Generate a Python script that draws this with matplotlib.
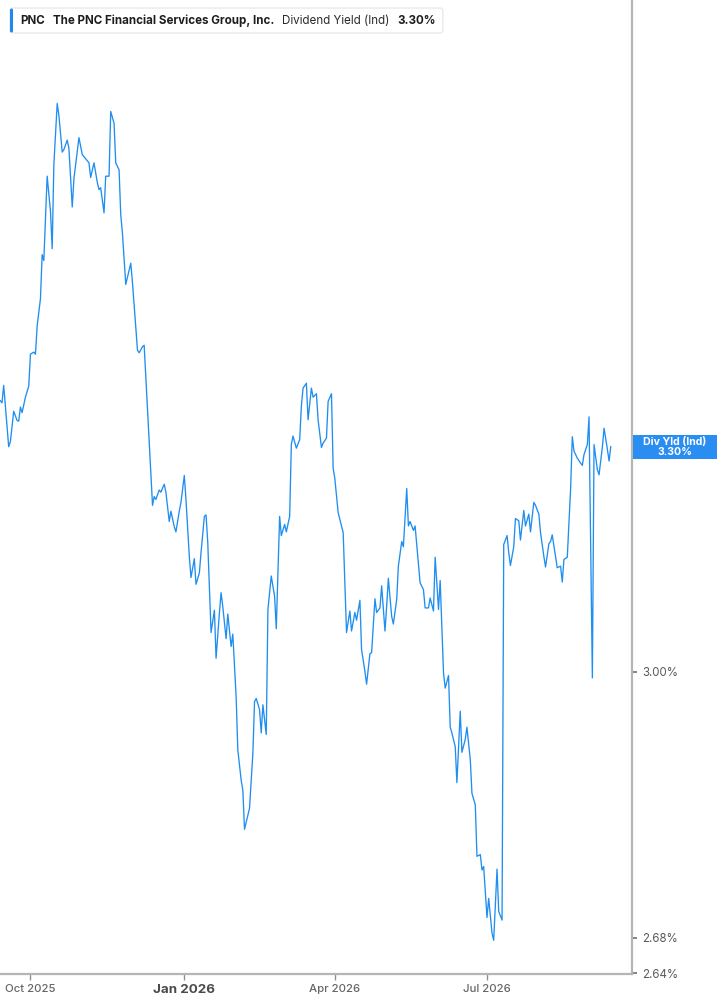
import matplotlib
matplotlib.use("Agg")
import matplotlib.pyplot as plt
import matplotlib.dates as mdates
import matplotlib.transforms as mtransforms
from matplotlib.patches import FancyBboxPatch, Rectangle
from matplotlib.ticker import FixedLocator, FixedFormatter, NullLocator
import pandas as pd

plt.rcParams['font.family'] = ['Inter', 'DejaVu Sans']

# ---------------- data ----------------
start_date = "2025-10-01"
day_offsets = [
    -18, -17, -16, -13, -12, -10, -8, -7, -6, -5, -3, -1, 0, 2, 3, 4, 6, 7, 8, 10,
    12, 13, 14, 16, 17, 19, 20, 22, 23, 25, 26, 29, 31, 35, 36, 38, 40, 41, 42, 44,
    45, 47, 48, 50, 51, 53, 54, 55, 57, 60, 61, 64, 65, 67, 68, 73, 74, 75, 77, 78,
    80, 81, 83, 84, 86, 87, 89, 90, 92, 93, 95, 96, 98, 99, 101, 102, 104, 105, 106, 108,
    110, 111, 113, 114, 115, 117, 118, 120, 121, 123, 124, 126, 127, 128, 130, 131, 133, 134, 135, 137,
    138, 139, 141, 142, 144, 146, 147, 149, 150, 152, 153, 155, 156, 157, 159, 161, 162, 163, 165, 166,
    168, 169, 171, 172, 174, 175, 177, 178, 180, 181, 182, 184, 186, 187, 188, 189, 191, 192, 194, 195,
    197, 198, 200, 201, 203, 204, 206, 207, 209, 210, 212, 213, 214, 216, 217, 219, 220, 222, 223, 225,
    226, 227, 229, 230, 232, 233, 235, 236, 238, 239, 241, 242, 244, 245, 247, 248, 250, 251, 252, 254,
    255, 257, 258, 260, 261, 263, 264, 266, 267, 269, 270, 271, 273, 274, 276, 277, 279, 280, 282, 283,
    285, 286, 287, 289, 290, 292, 293, 295, 296, 298, 299, 301, 302, 304, 305, 307, 308, 310, 311, 312,
    314, 315, 317, 318, 319, 321, 323, 324, 325, 327, 329, 330, 331, 333, 334, 336, 337, 339, 340, 342,
    343, 345, 346, 347,
]
yield_pct = [
    3.365, 3.362, 3.387, 3.300, 3.307, 3.350, 3.337, 3.336, 3.356, 3.348, 3.370, 3.386, 3.432, 3.435, 3.432, 3.473, 3.514, 3.580, 3.571, 3.701,
    3.646, 3.589, 3.719, 3.817, 3.798, 3.739, 3.743, 3.758, 3.745, 3.653, 3.697, 3.762, 3.735, 3.722, 3.699, 3.722, 3.691, 3.680, 3.683, 3.644,
    3.701, 3.701, 3.804, 3.785, 3.722, 3.711, 3.641, 3.613, 3.535, 3.567, 3.538, 3.438, 3.434, 3.443, 3.445, 3.219, 3.231, 3.227, 3.240, 3.237,
    3.248, 3.237, 3.197, 3.211, 3.190, 3.183, 3.211, 3.223, 3.260, 3.227, 3.150, 3.122, 3.147, 3.113, 3.128, 3.155, 3.204, 3.206, 3.170, 3.050,
    3.079, 3.017, 3.076, 3.102, 3.084, 3.042, 3.074, 3.032, 3.048, 2.968, 2.902, 2.865, 2.853, 2.806, 2.823, 2.831, 2.898, 2.962, 2.966, 2.952,
    2.923, 2.958, 2.921, 3.080, 3.124, 3.097, 3.055, 3.204, 3.178, 3.193, 3.183, 3.204, 3.303, 3.315, 3.298, 3.310, 3.357, 3.383, 3.390, 3.338,
    3.383, 3.370, 3.375, 3.338, 3.299, 3.305, 3.312, 3.364, 3.375, 3.270, 3.256, 3.209, 3.191, 3.182, 3.115, 3.050, 3.078, 3.052, 3.076, 3.066,
    3.092, 3.028, 3.000, 2.984, 3.023, 3.024, 3.094, 3.076, 3.082, 3.111, 3.052, 3.084, 3.121, 3.071, 3.061, 3.093, 3.137, 3.170, 3.163, 3.242,
    3.191, 3.197, 3.185, 3.191, 3.139, 3.115, 3.106, 3.082, 3.082, 3.095, 3.078, 3.149, 3.080, 3.118, 2.998, 2.979, 2.995, 2.930, 2.923, 2.906,
    2.862, 2.950, 2.899, 2.915, 2.930, 2.890, 2.849, 2.835, 2.774, 2.776, 2.758, 2.762, 2.703, 2.725, 2.685, 2.677, 2.759, 2.710, 2.700, 3.166,
    3.178, 3.155, 3.138, 3.163, 3.201, 3.198, 3.172, 3.212, 3.191, 3.207, 3.183, 3.223, 3.219, 3.207, 3.182, 3.150, 3.136, 3.167, 3.170, 3.179,
    3.150, 3.135, 3.137, 3.116, 3.146, 3.149, 3.242, 3.314, 3.294, 3.284, 3.277, 3.274, 3.289, 3.303, 3.342, 2.992, 3.303, 3.268, 3.261, 3.300,
    3.326, 3.296, 3.280, 3.300,
]

ticker = "PNC"
company = "The PNC Financial Services Group, Inc."
metric = "Dividend Yield (Ind)"
last_value_text = "3.30%"
last_label = "Div Yld (Ind)"
y_ticks = [3.00, 2.68, 2.64]
y_tick_labels = ["3.00%", "2.68%", "2.64%"]
x_tick_dates = ["2025-10-01", "2026-01-01", "2026-04-01", "2026-07-01"]
x_tick_labels = ["Oct 2025", "Jan 2026", "Apr 2026", "Jul 2026"]

# ---------------- figure ----------------
W, H = 717, 1005
LINE = '#1f8ef1'
AXIS = '#b5b5b5'

dates = pd.Timestamp(start_date) + pd.to_timedelta(day_offsets, unit="D")

fig = plt.figure(figsize=(W / 100, H / 100), dpi=100)
ax = fig.add_axes([0, 31 / H, 632 / W, 974 / H])
ax.plot(dates, yield_pct, color=LINE, lw=0.95, solid_joinstyle='round')

ax.set_yscale('log')
ax.set_ylim(2.639, 3.988)
t0 = pd.Timestamp(start_date)
ax.set_xlim(t0 - pd.Timedelta(days=18.2), t0 + pd.Timedelta(days=359.7))

for s in ('left', 'top'):
    ax.spines[s].set_visible(False)
for s in ('right', 'bottom'):
    ax.spines[s].set_color(AXIS)
    ax.spines[s].set_linewidth(1.6)

ax.yaxis.tick_right()
ax.yaxis.set_major_locator(FixedLocator(y_ticks))
ax.yaxis.set_major_formatter(FixedFormatter(y_tick_labels))
ax.yaxis.set_minor_locator(NullLocator())
ax.tick_params(axis='y', which='major', direction='out', length=3.5, width=1.2,
               color='#707070', labelcolor='#5a5a5a', labelsize=8.3, pad=4)

ax.xaxis.set_major_locator(FixedLocator(mdates.date2num(pd.to_datetime(x_tick_dates))))
ax.xaxis.set_major_formatter(FixedFormatter(x_tick_labels))
ax.xaxis.set_minor_locator(NullLocator())
ax.tick_params(axis='x', which='major', direction='out', length=4, width=1.0,
               color='#909090', labelcolor='#666666', labelsize=8.2, pad=3)
for i, lbl in enumerate(ax.get_xticklabels()):
    if x_tick_labels[i].startswith("Jan"):
        lbl.set_fontweight('bold')
        lbl.set_fontsize(9.6)
        lbl.set_color('#4a4a4a')
    else:
        lbl.set_fontweight('medium')

fig.canvas.draw()
renderer = fig.canvas.get_renderer()
ident = mtransforms.IdentityTransform()

# ---------------- last value tag ----------------
_, ypix = ax.transData.transform((mdates.date2num(dates[-1]), yield_pct[-1]))
x_sp = ax.transAxes.transform((1, 0))[0]
tag_h = 24
fig.patches.append(Rectangle((x_sp + 1, ypix - tag_h / 2), W - x_sp, tag_h,
                             transform=ident, facecolor='#2a8df2', edgecolor='none'))
fig.text((x_sp + W) / 2 / W, ypix / H, last_label + "\n" + last_value_text,
         ha='center', va='center', color='white', fontsize=7.6, fontweight='bold',
         linespacing=1.0)

# ---------------- header legend ----------------
bx0, by0, by1 = 10, H - 33, H - 8
yc = H - 20.5
x = 20
parts = [(ticker, 'bold', '#1e1e1e', 8), (company, 'bold', '#1e1e1e', 8),
         (metric, 'normal', '#2a2a2a', 8), (last_value_text, 'bold', '#1e1e1e', 0)]
for txt, wt, col, gap in parts:
    t = fig.text(x / W, yc / H, txt, ha='left', va='center', fontsize=8.35,
                 fontweight=wt, color=col)
    bb = t.get_window_extent(renderer=renderer)
    x = bb.x1 + gap
box_right = max(x + 7, 300)
legend_box = FancyBboxPatch((bx0, by0), box_right - bx0, by1 - by0,
                            boxstyle="round,pad=0,rounding_size=3",
                            transform=ident, facecolor='white', edgecolor='#e4e4e4',
                            linewidth=0.8, zorder=0)
fig.patches.append(legend_box)
fig.patches.append(FancyBboxPatch((bx0, by0 + 0.5), 3, by1 - by0 - 1,
                                  boxstyle="round,pad=0,rounding_size=1.5",
                                  transform=ident, facecolor='#1e88f5',
                                  edgecolor='none', zorder=1))

fig.savefig("out.png", dpi=100)
